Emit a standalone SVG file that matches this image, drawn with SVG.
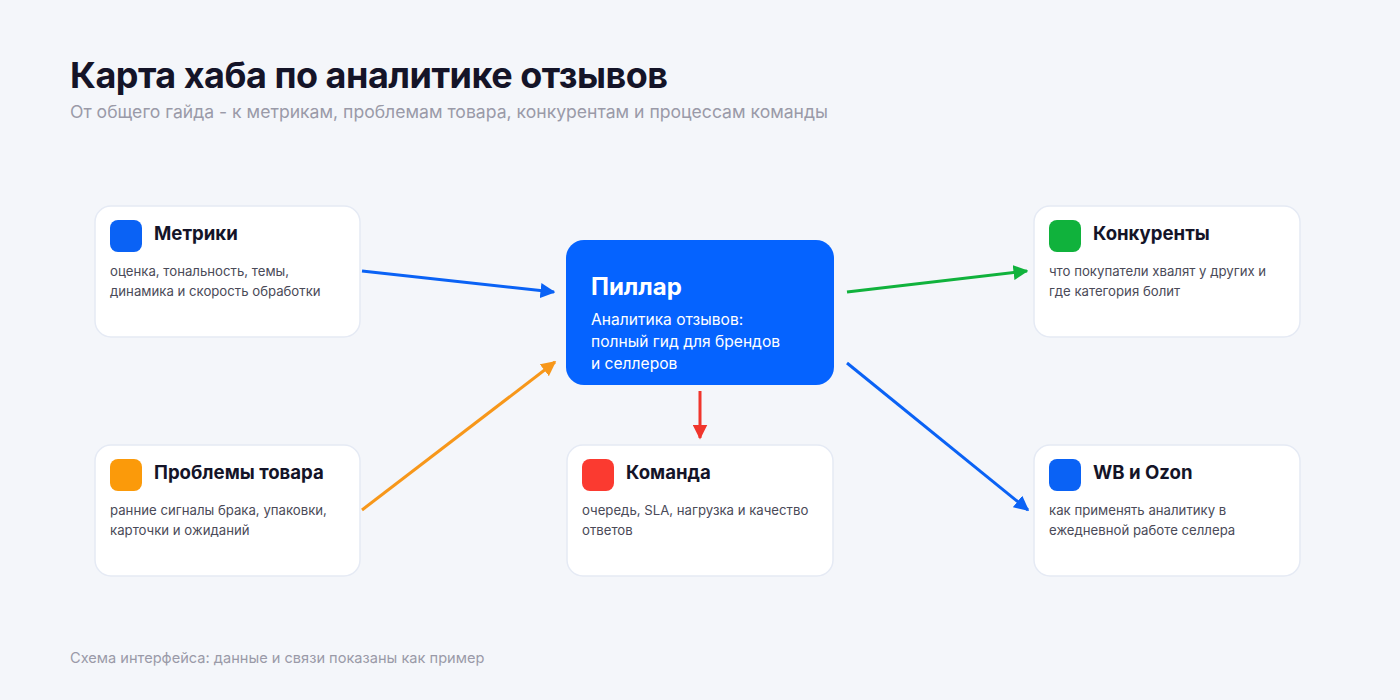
<svg xmlns="http://www.w3.org/2000/svg" width="1400" height="700" viewBox="0 0 1400 700">
<defs>
<style>
text{font-family:Inter,"Noto Sans","Liberation Sans",sans-serif}
.bg{fill:#f4f6fa}
.card{fill:#ffffff;stroke:#e5eaf4;stroke-width:1.5}
.h1{font-size:36px;font-weight:700;fill:#141428;letter-spacing:-0.5px}
.sub{font-size:17.6px;fill:#9a9aa8}
.ct{font-size:18.6px;font-weight:700;fill:#141428}
.cd{font-size:13.2px;fill:#4a4a58}
.pt{font-size:24px;font-weight:700;fill:#ffffff}
.pd{font-size:15.6px;fill:#ffffff}
.foot{font-size:14.6px;fill:#9a9aa8}
.ln{fill:none;stroke-width:3;stroke-linecap:butt}
</style>
<marker id="ab" viewBox="0 0 10 10" refX="9" refY="5" markerWidth="5" markerHeight="5" orient="auto" markerUnits="strokeWidth"><path d="M0,0 L10,5 L0,10 z" fill="#0a62f5"/></marker>
<marker id="ao" viewBox="0 0 10 10" refX="9" refY="5" markerWidth="5" markerHeight="5" orient="auto" markerUnits="strokeWidth"><path d="M0,0 L10,5 L0,10 z" fill="#f7971a"/></marker>
<marker id="ar" viewBox="0 0 10 10" refX="9" refY="5" markerWidth="5" markerHeight="5" orient="auto" markerUnits="strokeWidth"><path d="M0,0 L10,5 L0,10 z" fill="#f0352c"/></marker>
<marker id="ag" viewBox="0 0 10 10" refX="9" refY="5" markerWidth="5" markerHeight="5" orient="auto" markerUnits="strokeWidth"><path d="M0,0 L10,5 L0,10 z" fill="#10b23c"/></marker>
</defs>
<rect class="bg" x="0" y="0" width="1400" height="700"/>
<text class="h1" x="70" y="88">Карта хаба по аналитике отзывов</text>
<text class="sub" x="70" y="118">От общего гайда - к метрикам, проблемам товара, конкурентам и процессам команды</text>

<g id="connectors">
<line class="ln" x1="362" y1="271" x2="554" y2="292" stroke="#0a62f5" marker-end="url(#ab)"/>
<line class="ln" x1="362" y1="510" x2="555" y2="362" stroke="#f7971a" marker-end="url(#ao)"/>
<line class="ln" x1="700" y1="391" x2="700" y2="438" stroke="#f0352c" marker-end="url(#ar)"/>
<line class="ln" x1="847" y1="292" x2="1027" y2="271" stroke="#10b23c" marker-end="url(#ag)"/>
<line class="ln" x1="847" y1="363" x2="1028" y2="510" stroke="#0a62f5" marker-end="url(#ab)"/>
</g>

<g id="metrics">
<rect class="card" x="95" y="206" width="265" height="131" rx="16"/>
<rect x="110" y="220" width="32" height="32" rx="8" fill="#0a62f5"/>
<text class="ct" x="154" y="240">Метрики</text>
<text class="cd" x="110" y="276">оценка, тональность, темы,</text>
<text class="cd" x="110" y="296">динамика и скорость обработки</text>
</g>

<g id="pillar">
<rect x="566" y="240" width="268" height="145" rx="18" fill="#0563ff"/>
<text class="pt" x="591" y="295">Пиллар</text>
<text class="pd" x="591" y="325">Аналитика отзывов:</text>
<text class="pd" x="591" y="347">полный гид для брендов</text>
<text class="pd" x="591" y="369">и селлеров</text>
</g>

<g id="competitors">
<rect class="card" x="1034" y="206" width="266" height="131" rx="16"/>
<rect x="1049" y="220" width="32" height="32" rx="8" fill="#10b23c"/>
<text class="ct" x="1093" y="240">Конкуренты</text>
<text class="cd" x="1049" y="276">что покупатели хвалят у других и</text>
<text class="cd" x="1049" y="296">где категория болит</text>
</g>

<g id="problems">
<rect class="card" x="95" y="445" width="265" height="131" rx="16"/>
<rect x="110" y="459" width="32" height="32" rx="8" fill="#fb9a0a"/>
<text class="ct" x="154" y="479">Проблемы товара</text>
<text class="cd" x="110" y="515">ранние сигналы брака, упаковки,</text>
<text class="cd" x="110" y="535">карточки и ожиданий</text>
</g>

<g id="team">
<rect class="card" x="567" y="445" width="266" height="131" rx="16"/>
<rect x="582" y="459" width="32" height="32" rx="8" fill="#fb3a30"/>
<text class="ct" x="626" y="479">Команда</text>
<text class="cd" x="582" y="515">очередь, SLA, нагрузка и качество</text>
<text class="cd" x="582" y="535">ответов</text>
</g>

<g id="wbozon">
<rect class="card" x="1034" y="445" width="266" height="131" rx="16"/>
<rect x="1049" y="459" width="32" height="32" rx="8" fill="#0a62f5"/>
<text class="ct" x="1093" y="479">WB и Ozon</text>
<text class="cd" x="1049" y="515">как применять аналитику в</text>
<text class="cd" x="1049" y="535">ежедневной работе селлера</text>
</g>

<text class="foot" x="70" y="663">Схема интерфейса: данные и связи показаны как пример</text>
</svg>
